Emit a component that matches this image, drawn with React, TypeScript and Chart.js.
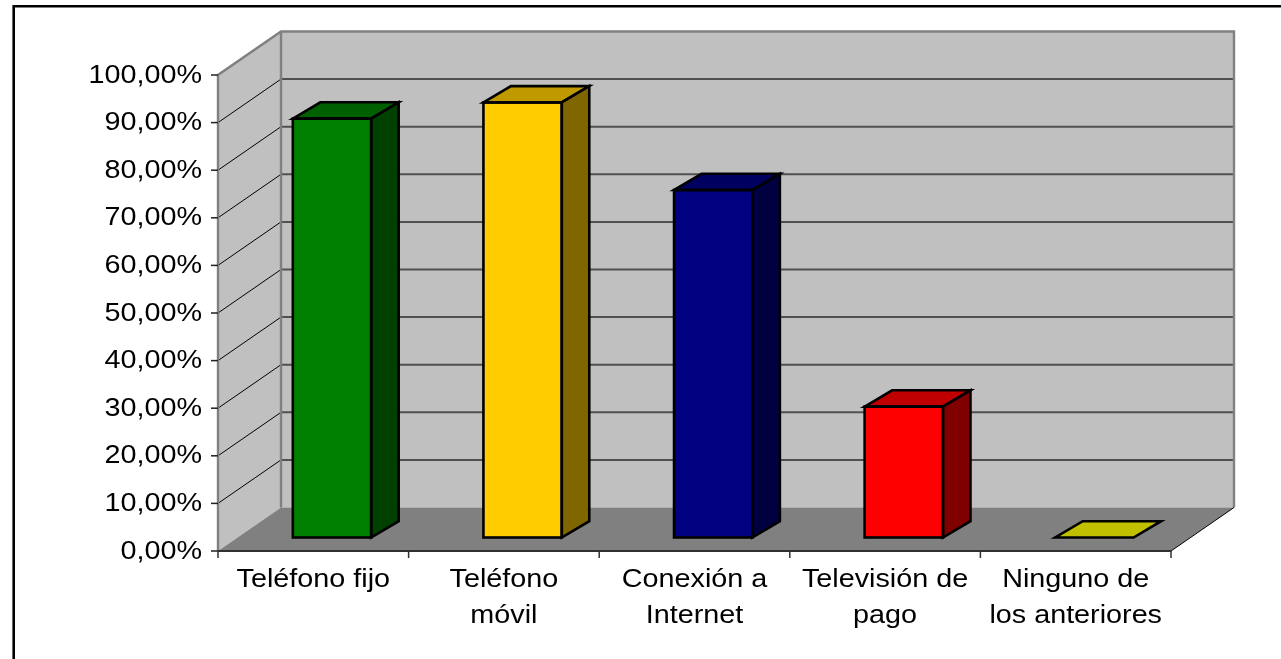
import React, { useEffect, useRef } from "react";
import { Chart, registerables } from "chart.js";

Chart.register(...registerables);

// Categories (multi-line labels) and their shares in percent
const categories: string[][] = [
  ["Teléfono fijo"],
  ["Teléfono", "móvil"],
  ["Conexión a", "Internet"],
  ["Televisión de", "pago"],
  ["Ninguno de", "los anteriores"],
];
const shares: number[] = [88.0, 91.4, 73.0, 27.5, 0];

// Face colours of each column: front, top and right side
const frontColors: string[] = ["#008000", "#FFCC00", "#000080", "#FF0000", "#FFFF00"];
const topColors: string[] = ["#006000", "#C09900", "#000060", "#C00000", "#C0C000"];
const sideColors: string[] = ["#004000", "#806600", "#000040", "#800000", "#808000"];

// Value axis
const yMin = 0;
const yMax = 100;
const yStep = 10;

// Oblique projection: full depth of the floor, position of the columns, depth of a column
const WALL_DX = 63;
const WALL_DY = -43.5;
const BAR_DX = 18.7;
const BAR_DY = -13.5;
const DEPTH_DX = 27.5;
const DEPTH_DY = -16.3;

const FONT = '25px "Liberation Sans", Arial, sans-serif';
const TEXT_STRETCH = 1.15;

function stretchedText(
  ctx: CanvasRenderingContext2D,
  text: string,
  x: number,
  y: number,
  align: CanvasTextAlign
) {
  ctx.save();
  ctx.translate(x, y);
  ctx.scale(TEXT_STRETCH, 1);
  ctx.font = FONT;
  ctx.fillStyle = "#000000";
  ctx.textAlign = align;
  ctx.textBaseline = "alphabetic";
  ctx.fillText(text, 0, 0);
  ctx.restore();
}

function formatPercent(v: number): string {
  return v.toFixed(2).replace(".", ",") + "%";
}

const scenePlugin = {
  id: "scene3d",
  beforeDraw(chart: any) {
    const ctx: CanvasRenderingContext2D = chart.ctx;
    ctx.save();
    ctx.fillStyle = "#ffffff";
    ctx.fillRect(0, 0, chart.width, chart.height);
    // frame around the picture
    ctx.strokeStyle = "#000000";
    ctx.lineWidth = 2.6;
    ctx.beginPath();
    ctx.moveTo(13.7, chart.height + 2);
    ctx.lineTo(13.7, 6.2);
    ctx.lineTo(chart.width + 2, 6.2);
    ctx.stroke();
    ctx.restore();
  },
  beforeDatasetsDraw(chart: any) {
    const ctx: CanvasRenderingContext2D = chart.ctx;
    const { left, right, top, bottom } = chart.chartArea;
    const y = chart.scales.y;
    const x = chart.scales.x;

    ctx.save();
    // side wall
    ctx.fillStyle = "#C0C0C0";
    ctx.beginPath();
    ctx.moveTo(left, top);
    ctx.lineTo(left + WALL_DX, top + WALL_DY);
    ctx.lineTo(left + WALL_DX, bottom + WALL_DY);
    ctx.lineTo(left, bottom);
    ctx.closePath();
    ctx.fill();
    // back wall
    ctx.fillRect(left + WALL_DX, top + WALL_DY, right - left, bottom - top);
    // floor
    ctx.fillStyle = "#808080";
    ctx.beginPath();
    ctx.moveTo(left, bottom);
    ctx.lineTo(left + WALL_DX, bottom + WALL_DY);
    ctx.lineTo(right + WALL_DX, bottom + WALL_DY);
    ctx.lineTo(right, bottom);
    ctx.closePath();
    ctx.fill();

    // gridlines on the back wall and the side wall
    for (const t of y.ticks) {
      const py = y.getPixelForValue(t.value);
      if (t.value === yMin || t.value === yMax) continue;
      ctx.strokeStyle = "#505050";
      ctx.lineWidth = 2;
      ctx.beginPath();
      ctx.moveTo(left + WALL_DX, py + WALL_DY);
      ctx.lineTo(right + WALL_DX, py + WALL_DY);
      ctx.stroke();
      ctx.strokeStyle = "#000000";
      ctx.lineWidth = 1;
      ctx.beginPath();
      ctx.moveTo(left, py);
      ctx.lineTo(left + WALL_DX, py + WALL_DY);
      ctx.stroke();
    }

    // wall outlines
    ctx.strokeStyle = "#808080";
    ctx.lineWidth = 2.4;
    ctx.beginPath();
    ctx.moveTo(left, bottom);
    ctx.lineTo(left, top);
    ctx.lineTo(left + WALL_DX, top + WALL_DY);
    ctx.lineTo(right + WALL_DX, top + WALL_DY);
    ctx.lineTo(right + WALL_DX, bottom + WALL_DY);
    ctx.stroke();
    ctx.beginPath();
    ctx.moveTo(left + WALL_DX, top + WALL_DY);
    ctx.lineTo(left + WALL_DX, bottom + WALL_DY);
    ctx.stroke();

    // floor's right edge
    ctx.strokeStyle = "#000000";
    ctx.lineWidth = 1;
    ctx.beginPath();
    ctx.moveTo(right, bottom);
    ctx.lineTo(right + WALL_DX, bottom + WALL_DY);
    ctx.stroke();

    // value axis tick marks
    ctx.strokeStyle = "#202020";
    ctx.lineWidth = 1.5;
    for (const t of y.ticks) {
      const py = y.getPixelForValue(t.value);
      ctx.beginPath();
      ctx.moveTo(left - 7, py);
      ctx.lineTo(left, py);
      ctx.stroke();
    }

    // category axis line and tick marks
    ctx.strokeStyle = "#303030";
    ctx.lineWidth = 2;
    ctx.beginPath();
    ctx.moveTo(left, bottom);
    ctx.lineTo(right, bottom);
    ctx.stroke();
    const n = categories.length;
    const step = (right - left) / n;
    ctx.lineWidth = 1.5;
    for (let i = 0; i <= n; i++) {
      const px = i === n ? right : x.getPixelForValue(i) - step / 2;
      ctx.beginPath();
      ctx.moveTo(px, bottom);
      ctx.lineTo(px, bottom + 7);
      ctx.stroke();
    }
    ctx.restore();

    // columns stand part-way into the floor
    ctx.save();
    ctx.translate(BAR_DX, BAR_DY);
  },
  afterDatasetsDraw(chart: any) {
    const ctx: CanvasRenderingContext2D = chart.ctx;
    const meta = chart.getDatasetMeta(0);
    ctx.lineWidth = 2.6;
    ctx.lineJoin = "miter";
    ctx.strokeStyle = "#000000";
    meta.data.forEach((el: any, i: number) => {
      const { x, y, base, width } = el.getProps(["x", "y", "base", "width"], true);
      const l = x - width / 2;
      const r = x + width / 2;
      // top face
      ctx.fillStyle = topColors[i];
      ctx.beginPath();
      ctx.moveTo(l, y);
      ctx.lineTo(r, y);
      ctx.lineTo(r + DEPTH_DX, y + DEPTH_DY);
      ctx.lineTo(l + DEPTH_DX, y + DEPTH_DY);
      ctx.closePath();
      ctx.fill();
      ctx.stroke();
      // right side face
      if (base - y > 0.5) {
        ctx.fillStyle = sideColors[i];
        ctx.beginPath();
        ctx.moveTo(r, y);
        ctx.lineTo(r + DEPTH_DX, y + DEPTH_DY);
        ctx.lineTo(r + DEPTH_DX, base + DEPTH_DY);
        ctx.lineTo(r, base);
        ctx.closePath();
        ctx.fill();
        ctx.stroke();
        ctx.strokeRect(l, y, width, base - y);
      }
    });
    ctx.restore();
  },
  afterDraw(chart: any) {
    const ctx: CanvasRenderingContext2D = chart.ctx;
    const { left, bottom } = chart.chartArea;
    const y = chart.scales.y;
    const x = chart.scales.x;
    for (const t of y.ticks) {
      const py = y.getPixelForValue(t.value);
      stretchedText(ctx, formatPercent(t.value), left - 16, py + 7.5, "right");
    }
    categories.forEach((lines, i) => {
      const px = x.getPixelForValue(i);
      lines.forEach((line, k) => {
        stretchedText(ctx, line, px, bottom + 35.5 + k * 36, "center");
      });
    });
  },
};

export default function App() {
  const canvasRef = useRef<HTMLCanvasElement | null>(null);

  useEffect(() => {
    document.body.style.margin = "0";
    const canvas = canvasRef.current;
    if (!canvas) return;
    const chart = new Chart(canvas, {
      type: "bar",
      data: {
        labels: categories,
        datasets: [
          {
            data: shares,
            backgroundColor: frontColors,
            borderColor: "#000000",
            borderWidth: 0,
            barPercentage: 1,
            categoryPercentage: 0.411,
            clip: false as any,
          },
        ],
      },
      options: {
        responsive: false,
        animation: false,
        events: [],
        layout: { padding: { left: 0, right: 110, top: 75, bottom: 0 } },
        plugins: {
          legend: { display: false },
          tooltip: { enabled: false },
        },
        scales: {
          x: {
            grid: { display: false },
            border: { display: false },
            ticks: { display: false },
            afterFit: (s: any) => {
              s.height = 108;
            },
          },
          y: {
            min: yMin,
            max: yMax,
            grid: { display: false },
            border: { display: false },
            ticks: { display: false, stepSize: yStep },
            afterFit: (s: any) => {
              s.width = 218;
            },
          },
        },
      },
      plugins: [scenePlugin],
    });
    return () => chart.destroy();
  }, []);

  return (
    <canvas
      ref={canvasRef}
      width={1281}
      height={659}
      style={{ display: "block", width: 1281, height: 659 }}
    />
  );
}
